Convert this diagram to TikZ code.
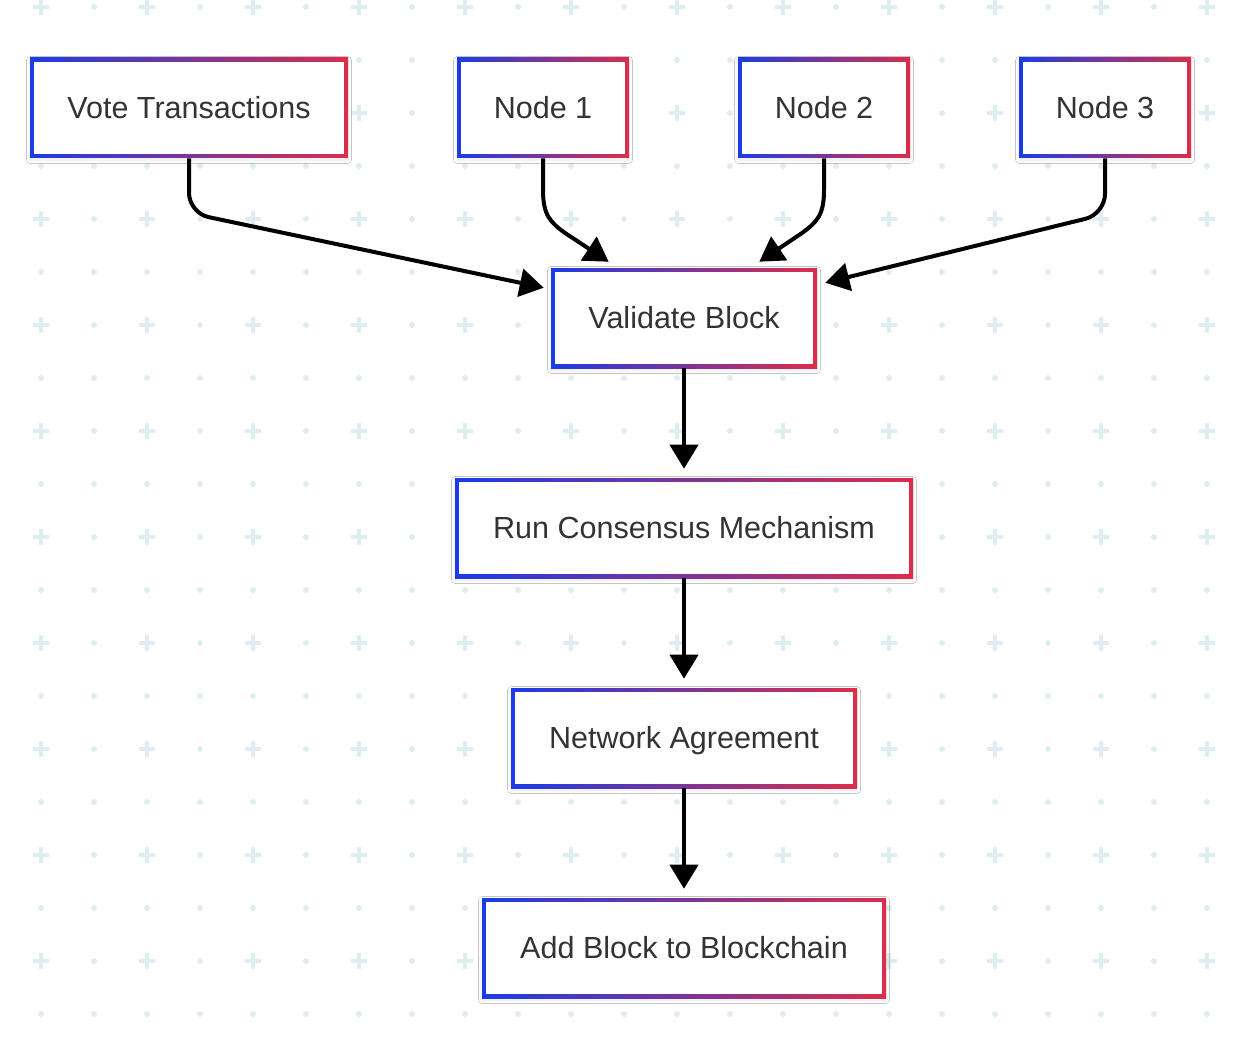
\documentclass[tikz,border=0pt]{standalone}
\usepackage{fontspec}
\setmainfont{Liberation Sans}
\usetikzlibrary{arrows.meta,shadows.blur}
\definecolor{cblue}{RGB}{26,60,230}
\definecolor{cred}{RGB}{220,45,75}
\definecolor{gridc}{RGB}{222,237,241}
\definecolor{txt}{RGB}{51,51,51}
\tikzset{
  box/.style={rectangle, inner sep=0pt, minimum height=75pt,
    left color=cblue, right color=cred,
    text=txt, font=\fontsize{22.9pt}{27pt}\selectfont,
    text height=16.4pt, text depth=0pt,
    blur shadow={shadow xshift=0pt, shadow yshift=-1.5pt, shadow opacity=9, shadow blur steps=6, shadow blur radius=2.5pt},
    path picture={\fill[white] ([shift={(4,4)}]path picture bounding box.north west) rectangle ([shift={(-4,-4)}]path picture bounding box.south east);}},
  edge/.style={line width=3pt, draw=black, -{Triangle[length=18pt,width=21pt]}},
}
\begin{document}
\begin{tikzpicture}[x=0.75pt,y=-0.75pt]
\fill[white] (0,0) rectangle (1248,1038);
\useasboundingbox (0,0) rectangle (1248,1038);
% background grid
\foreach \i in {0,...,22}{
  \foreach \j in {0,...,19}{
    \pgfmathsetmacro{\gx}{41+53*\i}
    \pgfmathsetmacro{\gy}{7+53*\j}
    \pgfmathtruncatemacro{\gpar}{mod(\i,2)+mod(\j,2)}
    \ifnum\gpar=0
      \draw[gridc, line width=3pt] (\gx-8,\gy) -- (\gx+8,\gy) (\gx,\gy-8) -- (\gx,\gy+8);
    \else
      \fill[gridc] (\gx,\gy) circle (3);
    \fi
  }
}
% nodes
\node[box, minimum width=238.5pt] (vote) at (189,108) {Vote Transactions};
\node[box, minimum width=129pt] (n1) at (543,108) {Node 1};
\node[box, minimum width=129pt] (n2) at (824,108) {Node 2};
\node[box, minimum width=129pt] (n3) at (1105,108) {Node 3};
\node[box, minimum width=199.5pt] (val) at (684,318) {Validate Block};
\node[box, minimum width=343.5pt] (run) at (684,528) {Run Consensus Mechanism};
\node[box, minimum width=259.5pt] (net) at (684,738) {Network Agreement};
\node[box, minimum width=303pt] (add) at (684,948) {Add Block to Blockchain};
% edges
\draw[edge, rounded corners=15pt] (vote.south) -- (189,213) -- ([shift={(-7,20)}]val.north west);
\draw[edge] (n1.south) -- (543,190) .. controls (543,215) and (550,222) .. (565,233) -- ([shift={(58,-6)}]val.north west);
\draw[edge] (n2.south) -- (824,190) .. controls (824,215) and (817,222) .. (802,233) -- ([shift={(-58,-6)}]val.north east);
\draw[edge, rounded corners=15pt] (n3.south) -- (1105,214) -- ([shift={(8,15)}]val.north east);
\draw[edge] (val.south) -- ([shift={(0,-9)}]run.north);
\draw[edge] (run.south) -- ([shift={(0,-9)}]net.north);
\draw[edge] (net.south) -- ([shift={(0,-9)}]add.north);
\end{tikzpicture}
\end{document}
